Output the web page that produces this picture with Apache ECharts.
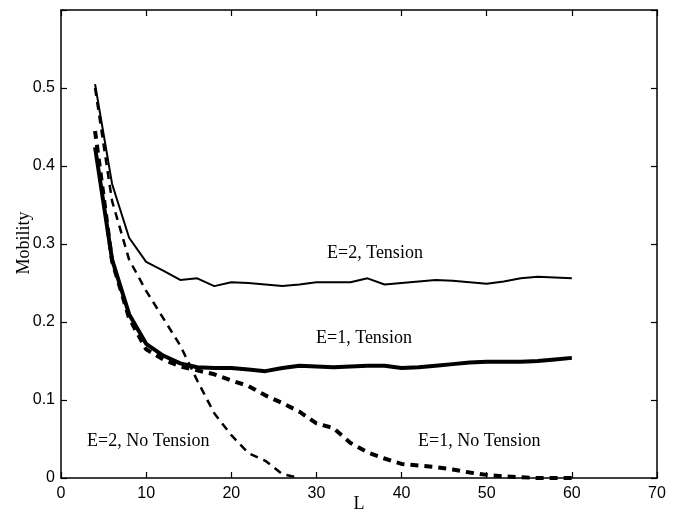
<!DOCTYPE html>
<html>
<head>
<meta charset="utf-8">
<script src="https://cdn.jsdelivr.net/npm/echarts@6/dist/echarts.min.js"></script>
<style>html,body{margin:0;padding:0;background:#fff}#c{width:680px;height:519px}</style>
</head>
<body>
<div id="c"></div>
<script>
var L = [4,6,8,10,12,14,16,18,20,22,24,26,28,30,32,34,36,38,40,42,44,46,48,50,52,54,56,58,60];
var e2Tension = [0.505,0.377,0.308,0.277,0.266,0.254,0.256,0.246,0.251,0.250,0.248,0.246,0.248,0.251,0.251,0.251,0.256,0.248,0.250,0.252,0.254,0.253,0.251,0.249,0.252,0.256,0.258,0.257,0.256];
var e1Tension = [0.424,0.280,0.210,0.172,0.157,0.147,0.142,0.141,0.141,0.139,0.137,0.141,0.144,0.143,0.142,0.143,0.144,0.144,0.141,0.142,0.144,0.146,0.148,0.149,0.149,0.149,0.150,0.152,0.154];
var e2NoTension = [0.500,0.355,0.280,0.240,0.205,0.170,0.125,0.083,0.055,0.032,0.022,0.005,0.000];
var e1NoTension = [0.445,0.278,0.205,0.165,0.152,0.143,0.138,0.133,0.125,0.118,0.106,0.096,0.085,0.070,0.064,0.045,0.033,0.025,0.018,0.016,0.014,0.011,0.007,0.004,0.002,0.001,0.000,0.000,0.000];
var xTicks = [0,10,20,30,40,50,60,70];
var yTicks = [0,0.1,0.2,0.3,0.4,0.5];
var labels = [
  {text:'E=2, Tension', x:327, y:253},
  {text:'E=1, Tension', x:316, y:338},
  {text:'E=2, No Tension', x:87, y:441},
  {text:'E=1, No Tension', x:418, y:441}
];
var xName = 'L';
var yName = 'Mobility';

function zip(xs, ys){ return ys.map(function(v,i){ return [xs[i], v]; }); }

var chart = echarts.init(document.getElementById('c'), null, {renderer:'canvas'});
var tickFont = {color:'#000', fontFamily:'Liberation Sans, Arial, sans-serif', fontSize:16};
var serif = 'Liberation Serif, Times New Roman, serif';

function axisBase(extra){
  return Object.assign({
    type:'value',
    axisLine:{show:true, onZero:false, lineStyle:{color:'#000', width:1.5}},
    axisTick:{show:true, inside:true, length:6, lineStyle:{color:'#000', width:1.2}},
    splitLine:{show:false}
  }, extra);
}

var graphics = labels.map(function(l){
  return {type:'text', x:l.x, y:l.y, style:{text:l.text, fill:'#000', font:'18px ' + serif, textAlign:'left', textVerticalAlign:'middle'}};
});
graphics.push({type:'text', x:359, y:504, style:{text:xName, fill:'#000', font:'18px ' + serif, textAlign:'center', textVerticalAlign:'middle'}});
graphics.push({type:'text', x:24, y:243, rotation:Math.PI/2, style:{text:yName, fill:'#000', font:'18px ' + serif, textAlign:'center', textVerticalAlign:'middle'}});

chart.setOption({
  animation:false,
  backgroundColor:'#fff',
  grid:{left:61, right:23, top:10, bottom:41, containLabel:false, outerBoundsMode:'none'},
  xAxis:[
    axisBase({min:0, max:70, interval:10, position:'bottom',
      axisLabel:Object.assign({margin:8, formatter:function(v){ return xTicks.indexOf(v)>=0 ? String(v) : ''; }}, tickFont)}),
    axisBase({min:0, max:70, interval:10, position:'top', axisLabel:{show:false}})
  ],
  yAxis:[
    axisBase({min:0, max:0.6, interval:0.1, position:'left',
      axisLabel:Object.assign({margin:6, formatter:function(v){
        var r = Math.round(v*10)/10;
        return yTicks.indexOf(r)>=0 ? String(r) : '';
      }}, tickFont)}),
    axisBase({min:0, max:0.6, interval:0.1, position:'right', axisLabel:{show:false}})
  ],
  graphic: graphics,
  series:[
    {type:'line', name:'E=2, Tension', data:zip(L, e2Tension), showSymbol:false, lineStyle:{color:'#000', width:2}},
    {type:'line', name:'E=1, Tension', data:zip(L, e1Tension), showSymbol:false, lineStyle:{color:'#000', width:4}},
    {type:'line', name:'E=2, No Tension', data:zip(L, e2NoTension), showSymbol:false, lineStyle:{color:'#000', width:2.5, type:[8,6]}},
    {type:'line', name:'E=1, No Tension', data:zip(L, e1NoTension), showSymbol:false, lineStyle:{color:'#000', width:4, type:[8,6]}}
  ]
});
</script>
</body>
</html>
